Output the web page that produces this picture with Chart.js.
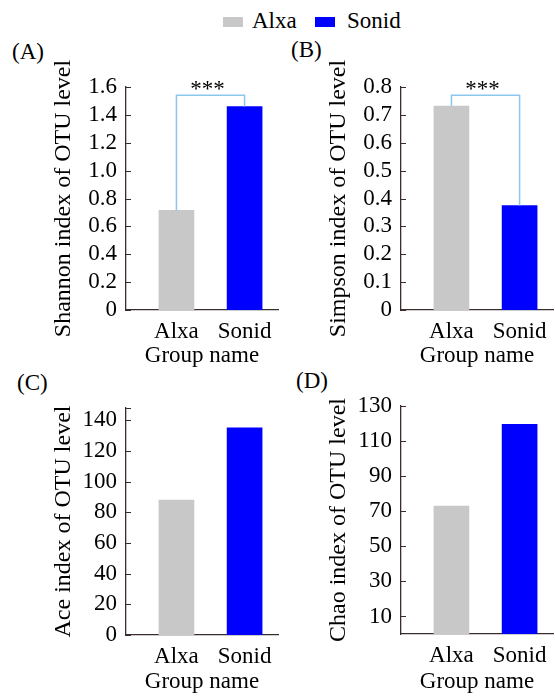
<!DOCTYPE html>
<html>
<head>
<meta charset="utf-8">
<script src="https://cdn.jsdelivr.net/npm/chart.js@4.4.0/dist/chart.umd.min.js"></script>
<style>
  body { margin: 0; width: 555px; height: 696px; position: relative; background: #fff; overflow: hidden;
         font-family: "Liberation Serif", "Times New Roman", serif; color: #000; }
  canvas { position: absolute; }
  .txt { position: absolute; font-size: 23px; line-height: 23px; white-space: nowrap; }
  .swatch { position: absolute; width: 20px; height: 10px; }
</style>
</head>
<body>

<div class="swatch" style="left:223px; top:17px; background:#c8c8c8"></div>
<div class="txt" style="left:252px; top:9px">Alxa</div>
<div class="swatch" style="left:315px; top:17px; background:#0000ff"></div>
<div class="txt" style="left:347px; top:9px">Sonid</div>

<div class="txt" style="left:12px; top:40px">(A)</div>
<div class="txt" style="left:291px; top:38px">(B)</div>
<div class="txt" style="left:17px; top:371px">(C)</div>
<div class="txt" style="left:296px; top:369px">(D)</div>

<canvas id="chartA" width="280" height="370" style="left:0; top:0"></canvas>
<canvas id="chartB" width="280" height="370" style="left:275px; top:0"></canvas>
<canvas id="chartC" width="280" height="356" style="left:0; top:340px"></canvas>
<canvas id="chartD" width="280" height="356" style="left:275px; top:340px"></canvas>

<script>
// groups and colours
const groups = ['Alxa', 'Sonid'];
const groupColors = ['#c8c8c8', '#0000ff'];

// values
const shannonValues = [0.715, 1.46];
const simpsonValues = [0.732, 0.375];
const aceValues = [88, 135];
const chaoValues = [73, 119.5];

// y tick labels
const shannonTicks = [0, 0.2, 0.4, 0.6, 0.8, 1.0, 1.2, 1.4, 1.6];
const simpsonTicks = [0, 0.1, 0.2, 0.3, 0.4, 0.5, 0.6, 0.7, 0.8];
const aceTicks = [0, 20, 40, 60, 80, 100, 120, 140];
const chaoTicks = [10, 30, 50, 70, 90, 110, 130];

// significance brackets
const shannonSig = 1.54;
const simpsonSig = 0.77;
const sigText = '***';

const axisColor = '#3a2c2c';
const bracketColor = '#8cc6ee';
const family = '"Liberation Serif", "Times New Roman", serif';
const tickFont = { family, size: 23 };
const titleFont = { family, size: 24 };

// short ticks pointing into the plot
const innerTicks = {
  id: 'innerTicks',
  afterDraw(chart) {
    const { ctx, chartArea, scales: { y } } = chart;
    const ys = y.ticks.map(t => y.getPixelForValue(t.value));
    ys.push(chartArea.top);
    ctx.save();
    ctx.strokeStyle = axisColor;
    ctx.lineWidth = 1;
    ys.forEach(py => {
      const yy = Math.round(py) + 0.5;
      ctx.beginPath();
      ctx.moveTo(chartArea.left, yy);
      ctx.lineTo(chartArea.left + 5, yy);
      ctx.stroke();
    });
    ctx.restore();
  }
};

// bracket between the two bars with stars on top
const sigBracket = {
  id: 'sigBracket',
  afterDatasetsDraw(chart, args, opts) {
    if (opts.top == null) return;
    const { ctx, scales: { x, y } } = chart;
    const vals = chart.data.datasets[0].data;
    const x1 = x.getPixelForValue(1), x2 = x.getPixelForValue(2);
    const top = y.getPixelForValue(opts.top);
    ctx.save();
    ctx.strokeStyle = bracketColor;
    ctx.lineWidth = 1.5;
    ctx.beginPath();
    ctx.moveTo(x1, y.getPixelForValue(vals[0].y));
    ctx.lineTo(x1, top);
    ctx.lineTo(x2, top);
    ctx.lineTo(x2, y.getPixelForValue(vals[1].y));
    ctx.stroke();
    ctx.fillStyle = '#000';
    ctx.font = '23px ' + family;
    ctx.textAlign = 'center';
    ctx.textBaseline = 'alphabetic';
    ctx.fillText(opts.text, (x1 + x2) / 2 - 3, top + 1);
    ctx.restore();
  }
};

function drawPanel(domId, values, ticks, yMax, yTitle, decimals, pad, xHeight, sigTop) {
  const ctx = document.getElementById(domId).getContext('2d');
  return new Chart(ctx, {
    type: 'bar',
    data: {
      datasets: [{
        data: values.map((v, i) => ({ x: i + 1, y: v })),
        backgroundColor: groupColors,
        borderWidth: 0,
        barThickness: 35
      }]
    },
    options: {
      responsive: false,
      animation: false,
      devicePixelRatio: 1,
      layout: { padding: { left: 49, top: pad, right: 2, bottom: 0 } },
      plugins: {
        legend: { display: false },
        tooltip: { enabled: false },
        sigBracket: { top: sigTop, text: sigText }
      },
      scales: {
        x: {
          type: 'linear',
          offset: false,
          min: 0.26,
          max: 2.49,
          afterBuildTicks: s => { s.ticks = [{ value: 1 }, { value: 2 }]; },
          afterFit: s => { s.height = xHeight; },
          ticks: { callback: v => groups[v - 1], font: tickFont, color: '#000', padding: 8, maxRotation: 0, autoSkip: false },
          grid: { display: false, drawTicks: false, offset: false },
          border: { color: axisColor, width: 1.3 },
          title: { display: true, text: 'Group name', font: tickFont, color: '#000', padding: 0 }
        },
        y: {
          min: 0,
          max: yMax,
          afterBuildTicks: s => { s.ticks = ticks.map(v => ({ value: v })); },
          afterFit: s => { s.width = 77; },
          ticks: { callback: v => (v === 0 ? '0' : v.toFixed(decimals)), font: tickFont, color: '#000', padding: 9, autoSkip: false },
          grid: { display: false, drawTicks: false },
          border: { color: axisColor, width: 1.3 },
          title: { display: true, text: yTitle, font: titleFont, color: '#000', padding: 0 }
        }
      }
    },
    plugins: [innerTicks, sigBracket]
  });
}

drawPanel('chartA', shannonValues, shannonTicks, 1.6, 'Shannon index of OTU level', 1, 87, 60, shannonSig);
drawPanel('chartB', simpsonValues, simpsonTicks, 0.8, 'Simpson index of OTU level', 1, 87, 60, simpsonSig);
drawPanel('chartC', aceValues, aceTicks, 148, 'Ace index of OTU level', 0, 68, 61, null);
drawPanel('chartD', chaoValues, chaoTicks, 130, 'Chao index of OTU level', 0, 66, 62, null);
</script>
</body>
</html>
